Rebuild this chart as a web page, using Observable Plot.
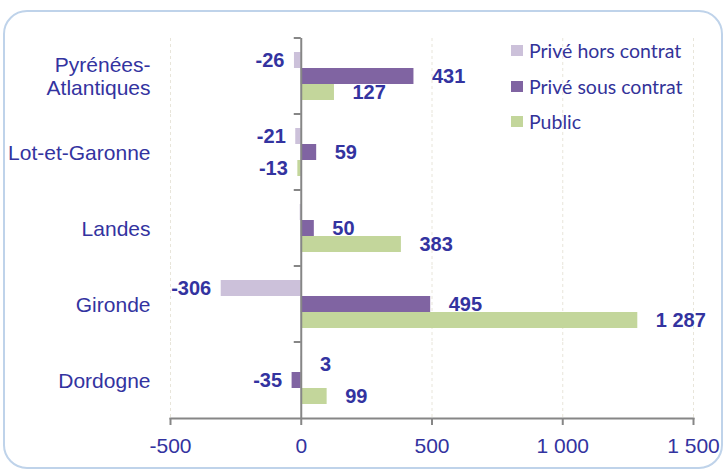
<!DOCTYPE html>
<html><head><meta charset="utf-8">
<script src="https://cdn.jsdelivr.net/npm/d3@7"></script>
<script src="https://cdn.jsdelivr.net/npm/@observablehq/plot@0.6"></script>
<style>
html,body{margin:0;padding:0;background:#fff;}
#wrap{position:relative;width:726px;height:472px;overflow:hidden;}
#border{position:absolute;left:3px;top:10px;width:716px;height:455px;border:2px solid #bfd3ea;border-radius:24px;}
#chart{position:absolute;left:0;top:0;}
#legend{position:absolute;left:511px;top:33px;font-family:Lato,"Open Sans",sans-serif;font-size:19.5px;color:#333399;}
.row{display:flex;align-items:center;height:35.5px;white-space:nowrap;}
.sw{width:12px;height:11px;margin-right:6px;flex:none;}
</style>
</head><body>
<div id="wrap"><div id="border"></div><div id="chart"></div><div id="legend"></div></div>
<script>
const categories = ["Pyrénées-Atlantiques", "Lot-et-Garonne", "Landes", "Gironde", "Dordogne"];
const series = ["Privé hors contrat", "Privé sous contrat", "Public"];
const horsContrat = [-26, -21, -4, -306, 3];
const sousContrat = [431, 59, 50, 495, -35];
const publicValues = [127, -13, 383, 1287, 99];
const xTicks = [-500, 0, 500, 1000, 1500];
const colors = ["#ccc1da", "#8064a2", "#c3d69b"];
const unlabeled = [["Landes", "Privé hors contrat"]];

const seriesValues = [horsContrat, sousContrat, publicValues];
const rows = categories.flatMap((c, i) => series.map((s, j) => ({category: c, series: s, value: seriesValues[j][i]})));
const labelRows = rows.filter(r => !unlabeled.some(([c, s]) => c === r.category && s === r.series));

const fr = d3.formatLocale({decimal: ",", thousands: " ", grouping: [3], currency: ["", " €"], minus: "-"});
const fmt = fr.format(",d");
const textColor = "#3333a0";
const axisColor = "#868686";
const labelFont = {fontSize: 20, fontWeight: "bold", fill: textColor};

const plot = Plot.plot({
  width: 726, height: 472,
  marginLeft: 170, marginRight: 33, marginTop: 36, marginBottom: 53,
  x: {domain: [-500, 1500]},
  y: {domain: series, paddingInner: 0, paddingOuter: 0.78, axis: null},
  fy: {domain: categories, padding: 0},
  color: {domain: series, range: colors},
  style: {fontFamily: "'Liberation Sans', Arial, sans-serif", background: "transparent", overflow: "visible"},
  marks: [
    Plot.gridX(xTicks.filter(t => t !== 0), {stroke: "#e8e5da", strokeOpacity: 1, strokeDasharray: "3,3"}),
    Plot.barX(rows, {x: "value", y: "series", fy: "category", fill: "series"}),
    Plot.ruleX([0], {stroke: axisColor, strokeWidth: 2}),
    Plot.frame({anchor: "bottom", stroke: axisColor, strokeWidth: 2, facetAnchor: "bottom"}),
    Plot.axisX({ticks: xTicks, tickFormat: fmt, tickSize: 7, tickPadding: 13, fontSize: 21, stroke: axisColor, strokeWidth: 2, fill: textColor, label: null}),
    Plot.axisFy({anchor: "left", tickSize: 0, tickPadding: 20, fontSize: 21, fill: textColor, label: null,
      tickFormat: d => d.replace("-Atl", "-\nAtl"), lineHeight: 1.1}),
    Plot.text(labelRows.filter(d => d.value >= 0), {x: "value", y: "series", fy: "category", text: d => fmt(d.value), textAnchor: "start", dx: 18, ...labelFont}),
    Plot.text(labelRows.filter(d => d.value < 0), {x: "value", y: "series", fy: "category", text: d => fmt(d.value), textAnchor: "end", dx: -10, ...labelFont})
  ]
});
document.getElementById("chart").appendChild(plot);

// small category boundary ticks on the zero axis, positioned from Plot's own scales
const fy = plot.scale("fy"), xs = plot.scale("x");
const x0 = xs.apply(0);
const bounds = categories.map(c => fy.apply(c));
d3.select(plot).append("g").selectAll("line").data(bounds).join("line")
  .attr("x1", x0 - 7).attr("x2", x0).attr("y1", d => d).attr("y2", d => d)
  .attr("stroke", axisColor).attr("stroke-width", 2);

const legend = d3.select("#legend");
series.forEach((s, i) => {
  const r = legend.append("div").attr("class", "row");
  r.append("div").attr("class", "sw").style("background", colors[i]);
  r.append("span").text(s);
});
</script>
</body></html>
